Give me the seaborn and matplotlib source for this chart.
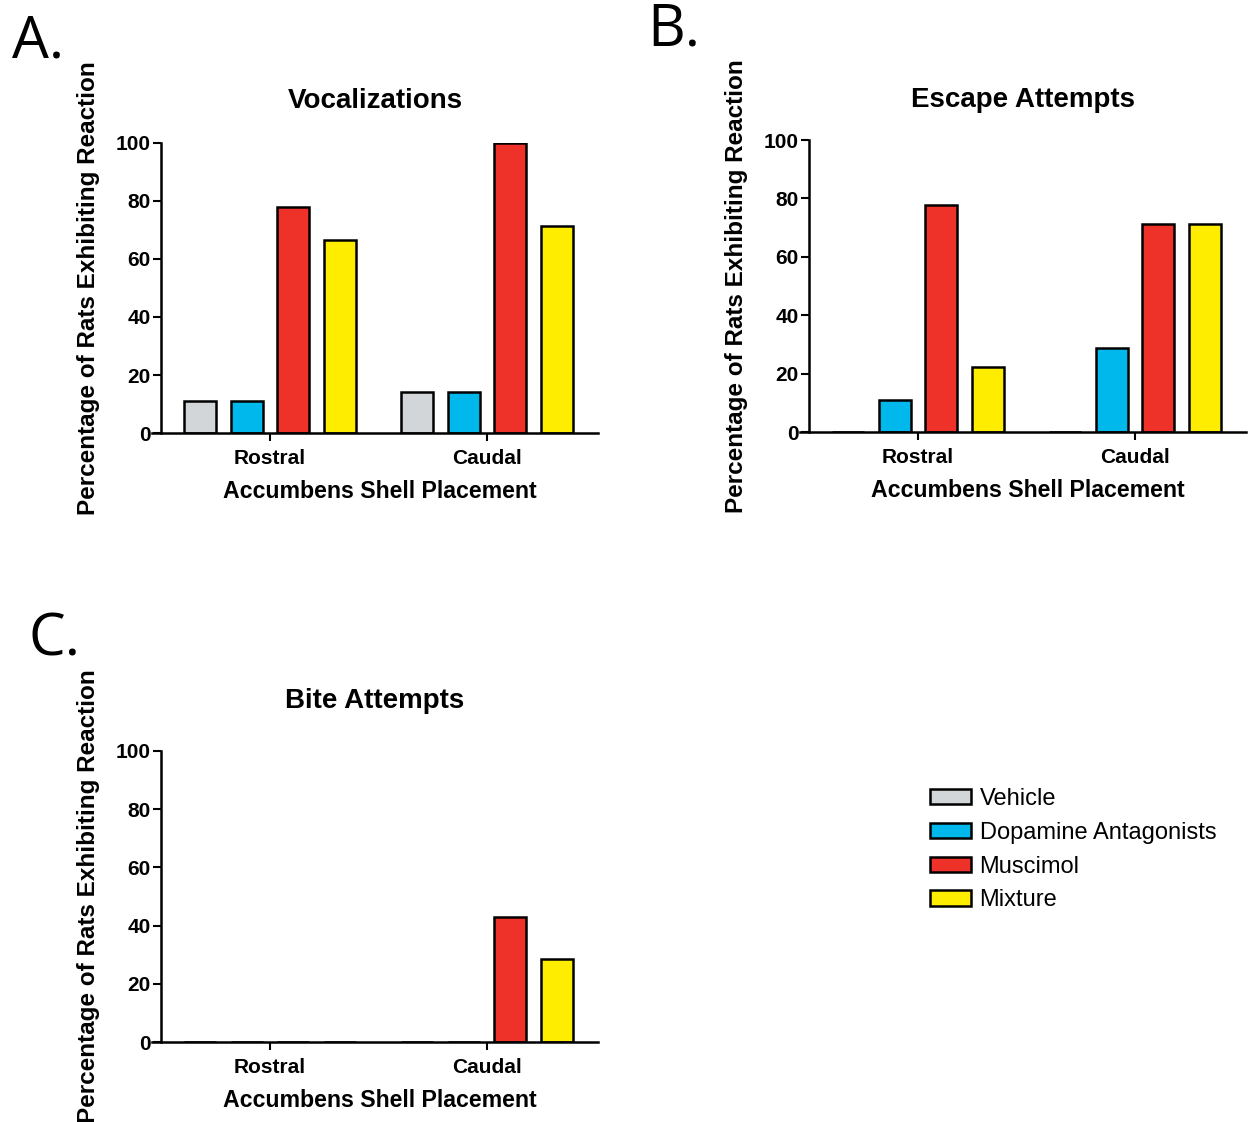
import matplotlib
matplotlib.use("Agg")
import matplotlib.pyplot as plt
from matplotlib.patches import Patch
import pandas as pd
import seaborn as sns

placements = ["Rostral", "Caudal"]
treatments = ["Vehicle", "Dopamine Antagonists", "Muscimol", "Mixture"]
colors = ["#D3D6D8", "#00B8EC", "#EE3129", "#FFED00"]

# % of rats per placement, in treatment order
vocal_rostral = [11.1, 11.1, 77.8, 66.7]
vocal_caudal = [14.3, 14.3, 100.0, 71.4]
escape_rostral = [0.0, 11.1, 77.8, 22.2]
escape_caudal = [0.0, 28.6, 71.4, 71.4]
bite_rostral = [0.0, 0.0, 0.0, 0.0]
bite_caudal = [0.0, 0.0, 42.9, 28.6]

titles = ["Vocalizations", "Escape Attempts", "Bite Attempts"]
panel_letters = ["A.", "B.", "C."]
y_ticks = [0, 20, 40, 60, 80, 100]

W, H = 1248, 1122
LABEL_FONT = ["Liberation Sans", "DejaVu Sans"]

sns.set_style("ticks")
plt.rcParams["font.family"] = LABEL_FONT
plt.rcParams["text.color"] = "black"
plt.rcParams["axes.labelcolor"] = "black"
palette = dict(zip(treatments, colors))


def to_frame(rostral, caudal):
    rows = []
    for place, vals in zip(placements, [rostral, caudal]):
        for t, v in zip(treatments, vals):
            rows.append({"Placement": place, "Treatment": t, "Percent": v})
    return pd.DataFrame(rows)


def px_axes(fig, left, top, right, bottom):
    return fig.add_axes([left / W, 1 - bottom / H, (right - left) / W, (bottom - top) / H])


def draw_panel(ax, df, title, title_pad):
    sns.barplot(data=df, x="Placement", y="Percent", hue="Treatment",
                order=placements, hue_order=treatments, palette=palette,
                width=0.857, gap=0.31, saturation=1, edgecolor="black",
                linewidth=1.8, errorbar=None, legend=False, ax=ax)
    ax.set_xlim(-0.544, 1.512)
    ax.set_ylim(0, 100)
    ax.set_yticks(y_ticks)
    sns.despine(ax=ax)
    for s in ["left", "bottom"]:
        ax.spines[s].set_linewidth(1.8)
        ax.spines[s].set_color("black")
    # y axis sits a bit right of where the x axis line starts
    ax.spines["left"].set_position(("outward", -6.5))
    ax.tick_params(axis="both", colors="black", width=1.5, length=5.5, direction="out")
    ax.tick_params(axis="y", pad=2)
    ax.tick_params(axis="x", pad=6)
    for lab in ax.get_yticklabels():
        lab.set_fontweight("bold")
        lab.set_fontsize(15)
    for lab in ax.get_xticklabels():
        lab.set_fontweight("bold")
        lab.set_fontsize(15)
    ax.set_title(title, fontsize=20, fontweight="bold", pad=title_pad)
    ax.set_xlabel("Accumbens Shell Placement", fontsize=16.7, fontweight="bold")
    ax.set_ylabel("Percentage of Rats Exhibiting Reaction", fontsize=17.5, fontweight="bold")
    ax.xaxis.set_label_coords(0.51, -0.162)
    ax.yaxis.set_label_coords(-0.117, 0.5)


fig = plt.figure(figsize=(W / 100, H / 100), dpi=100)

ax_a = px_axes(fig, 152, 143, 598, 433)
ax_b = px_axes(fig, 800, 140, 1246, 432)
ax_c = px_axes(fig, 152, 751, 598, 1042)

draw_panel(ax_a, to_frame(vocal_rostral, vocal_caudal), titles[0], 25)
draw_panel(ax_b, to_frame(escape_rostral, escape_caudal), titles[1], 24)
draw_panel(ax_c, to_frame(bite_rostral, bite_caudal), titles[2], 31)

letter_pos = [(12, 57), (647, 45), (28, 655)]
for letter, (x, y) in zip(panel_letters, letter_pos):
    fig.text(x / W, 1 - y / H, letter, fontsize=42, ha="left", va="baseline",
             family=["Open Sans", "DejaVu Sans"])

handles = [Patch(facecolor=c, edgecolor="black", linewidth=1.8, label=t)
           for t, c in zip(treatments, colors)]
fig.legend(handles=handles, loc="upper left", bbox_to_anchor=(930 / W, 1 - 788 / H),
           frameon=False, fontsize=17, borderpad=0, borderaxespad=0,
           handlelength=1.75, handleheight=0.62, handletextpad=0.35, labelspacing=0.5)

fig.savefig("out.png", dpi=100)
